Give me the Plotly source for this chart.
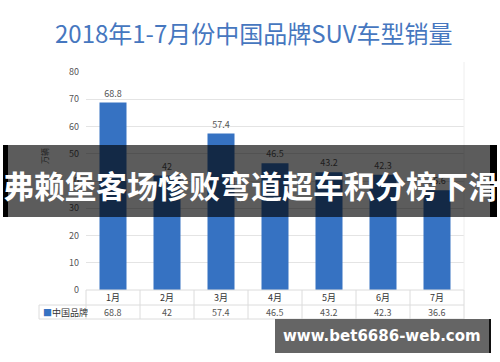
import plotly.graph_objects as go

months = ["1月", "2月", "3月", "4月", "5月", "6月", "7月"]
sales = [68.8, 42, 57.4, 46.5, 43.2, 42.3, 36.6]
y_ticks = [0, 10, 20, 30, 40, 50, 60, 70, 80]
series_name = "中国品牌"
title_text = "2018年1-7月份中国品牌SUV车型销量"
banner_text = "弗赖堡客场惨败弯道超车积分榜下滑"
watermark_text = "www.bet6686-web.com"
unit_text = "万辆"

W, H = 500, 362
ML, MR, MT, MB = 86, 36, 72, 72
plot_h = H - MT - MB
plot_w = W - ML - MR
n = len(months)

def py(px):  # pixel y (from top) -> paper y
    return (H - MB - px) / plot_h

def pxx(px):  # pixel x -> paper x
    return (px - ML) / plot_w

CJK = "Noto Sans CJK SC"
BAR = "#3672c2"

fig = go.Figure()
fig.add_trace(go.Bar(
    x=months, y=sales, width=0.5,
    marker=dict(color=BAR, line=dict(width=0)),
    text=[f"{v:g}" for v in sales], textposition="outside",
    textfont=dict(family=CJK, size=9, color="#555555"),
    cliponaxis=False, name=series_name, showlegend=False,
))

shapes = []
line_c = "#dcdcdc"
for yy, x0 in [(290, ML), (305, 39), (319, 39)]:
    shapes.append(dict(type="line", xref="paper", yref="paper",
                       x0=pxx(x0), x1=1, y0=py(yy), y1=py(yy),
                       line=dict(color=line_c, width=1)))
for i in range(n + 1):
    xp = i / n
    shapes.append(dict(type="line", xref="paper", yref="paper",
                       x0=xp, x1=xp, y0=py(290), y1=py(319),
                       line=dict(color=line_c, width=1)))
shapes.append(dict(type="line", xref="paper", yref="paper",
                   x0=pxx(39), x1=pxx(39), y0=py(305), y1=py(319),
                   line=dict(color=line_c, width=1)))
shapes.append(dict(type="line", xref="paper", yref="paper",
                   x0=1, x1=1, y0=0, y1=py(62),
                   line=dict(color="#eeeeee", width=1)))
# banner overlay
shapes.append(dict(type="rect", xref="paper", yref="paper",
                   x0=pxx(3), x1=pxx(497), y0=py(217), y1=py(145),
                   fillcolor="rgba(0,0,0,0.64)", line=dict(width=0), layer="above"))
shapes.append(dict(type="rect", xref="paper", yref="paper",
                   x0=pxx(3), x1=pxx(8), y0=py(217), y1=py(145),
                   fillcolor="#000000", line=dict(width=0), layer="above"))
shapes.append(dict(type="rect", xref="paper", yref="paper",
                   x0=pxx(490), x1=pxx(497), y0=py(217), y1=py(145),
                   fillcolor="#000000", line=dict(width=0), layer="above"))
# watermark box
shapes.append(dict(type="rect", xref="paper", yref="paper",
                   x0=pxx(275), x1=pxx(490), y0=py(353), y1=py(319),
                   fillcolor="#656565", line=dict(width=0), layer="above"))
shapes.append(dict(type="rect", xref="paper", yref="paper",
                   x0=pxx(489), x1=pxx(491), y0=py(353), y1=py(319),
                   fillcolor="#111111", line=dict(width=0), layer="above"))

def ann(x, y, text, font, **kw):
    d = dict(x=x, y=y, xref="paper", yref="paper", text=text, showarrow=False,
             xanchor="center", yanchor="middle", font=font)
    d.update(kw)
    return d

annotations = []
for i, (m, v) in enumerate(zip(months, sales)):
    xc = (i + 0.5) / n
    annotations.append(ann(xc, py(297.5), m, dict(family=CJK, size=9, color="#333333")))
    annotations.append(ann(xc, py(312), f"{v:g}", dict(family=CJK, size=9, color="#555555")))
annotations.append(ann(pxx(41), py(312), f"<span style='color:{BAR}'>■</span>{series_name}",
                       dict(family=CJK, size=9, color="#333333"), xanchor="left"))
annotations.append(ann(pxx(44), py(156), unit_text,
                       dict(family=CJK, size=8, color="#1c1c1c"), textangle=-90))
annotations.append(ann(pxx(254), py(32), title_text,
                       dict(family=CJK, size=24, color="#4677bf")))
annotations.append(ann(pxx(251), py(184), f"<b>{banner_text}</b>",
                       dict(family=CJK, size=31, color="#ffffff")))
annotations.append(ann(pxx(382), py(336), f"<b>{watermark_text}</b>",
                       dict(family="DejaVu Sans", size=15, color="#ffffff")))

fig.update_layout(
    width=W, height=H,
    margin=dict(l=ML, r=MR, t=MT, b=MB),
    paper_bgcolor="white", plot_bgcolor="white",
    bargap=0.5,
    xaxis=dict(showticklabels=False, showgrid=False, zeroline=False, showline=False,
               range=[-0.5, n - 0.5]),
    yaxis=dict(range=[0, 80], tickvals=y_ticks, showgrid=True, gridcolor="#e4e4e4",
               zeroline=False, showline=False, ticks="", ticklabelstandoff=6,
               tickfont=dict(family=CJK, size=9, color="#555555")),
    shapes=shapes, annotations=annotations,
)
fig.write_html("out.html", config={"displayModeBar": False},
               post_script="document.body.style.margin='0';")
